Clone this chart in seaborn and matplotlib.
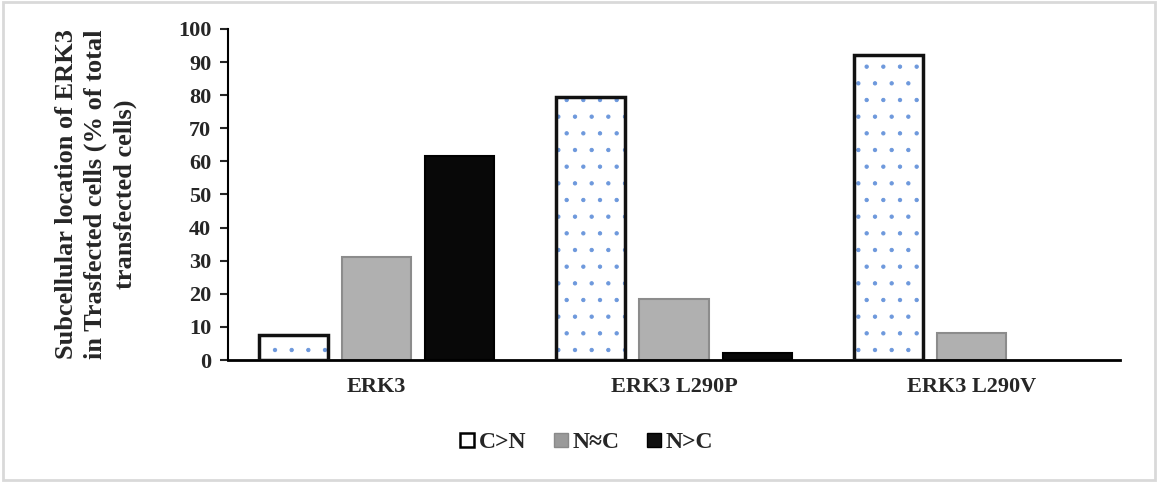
import pandas as pd
import seaborn as sns
import matplotlib.pyplot as plt
from matplotlib.patches import Rectangle
from matplotlib.lines import Line2D

# Data
constructs = ["ERK3", "ERK3 L290P", "ERK3 L290V"]
locations = ["C>N", "N\u2248C", "N>C"]
c_gt_n = [7.5, 79.5, 92.0]
n_eq_c = [31.0, 18.3, 8.3]
n_gt_c = [61.5, 2.0, 0.0]

df = pd.DataFrame({
    "Construct": constructs * 3,
    "Location": [locations[0]] * 3 + [locations[1]] * 3 + [locations[2]] * 3,
    "Percent": c_gt_n + n_eq_c + n_gt_c,
})

sns.set_style("white")
plt.rcParams["font.family"] = ["Liberation Serif", "DejaVu Serif"]
plt.rcParams["font.weight"] = "bold"
plt.rcParams["hatch.linewidth"] = 0.7

fig = plt.figure(figsize=(11.6, 4.87), dpi=100)
ax = fig.add_axes([228 / 1160, 1 - 360 / 487, (1120 - 228) / 1160, (360 - 29) / 487])

palette = {"C>N": "white", "N\u2248C": "#b0b0b0", "N>C": "#080808"}
sns.barplot(data=df, x="Construct", y="Percent", hue="Location",
            hue_order=locations, palette=palette, width=0.84, gap=0.17,
            legend=False, ax=ax, saturation=1)

edge = {"C>N": "#6d98dc", "N\u2248C": "#8c8c8c", "N>C": "#000000"}
for cont, loc in zip(ax.containers, locations):
    for bar in cont:
        if bar.get_height() == 0:
            bar.set_visible(False)
            continue
        x, y = bar.get_xy()
        w, h = bar.get_width(), bar.get_height()
        if loc == "C>N":
            bar.set_edgecolor(edge[loc])
            bar.set_hatch(".")
            bar.set_linewidth(0)
            ax.add_patch(Rectangle((x, y), w, h, fill=False, ec="#111111",
                                   lw=2.5, zorder=3))
        else:
            bar.set_edgecolor(edge[loc])
            bar.set_linewidth(1.5)

ax.set_ylim(0, 100)
ax.set_yticks(range(0, 101, 10))
ax.set_xlim(-0.5, 2.5)
ax.tick_params(axis="y", labelsize=16, length=6, width=1.5, direction="out",
               left=True, pad=6)
ax.tick_params(axis="x", labelsize=16, length=0, pad=12)
for lab in ax.get_xticklabels() + ax.get_yticklabels():
    lab.set_fontweight("bold")
for s in ["top", "right"]:
    ax.spines[s].set_visible(False)
ax.spines["left"].set_linewidth(1.5)
ax.spines["bottom"].set_linewidth(2)
ax.spines["left"].set_color("black")
ax.spines["bottom"].set_color("black")
ax.set_xlabel("")
ax.set_ylabel("Subcellular location of ERK3\nin Trasfected cells (% of total\ntransfected cells)",
              fontsize=19, fontweight="bold", linespacing=1.35)
ax.yaxis.set_label_coords(-0.102, 0.5)

handles = [
    Line2D([], [], marker="s", ls="", markersize=10, markerfacecolor="white",
           markeredgecolor="black", markeredgewidth=1.8),
    Line2D([], [], marker="s", ls="", markersize=10, markerfacecolor="#9a9a9a",
           markeredgecolor="#8a8a8a"),
    Line2D([], [], marker="s", ls="", markersize=10, markerfacecolor="#111111",
           markeredgecolor="black"),
]
fig.legend(handles, locations, loc="center", bbox_to_anchor=(585 / 1160, 1 - 442 / 487),
           ncol=3, frameon=False, prop={"size": 17, "weight": "bold"},
           handletextpad=0.05, columnspacing=1.0, handlelength=0.9)

fig.patches.append(Rectangle((3 / 1160, 7 / 487), 1152 / 1160, 478 / 487,
                             transform=fig.transFigure, fill=False,
                             ec="#d9d9d9", lw=2))

fig.savefig("out.png", dpi=100)
